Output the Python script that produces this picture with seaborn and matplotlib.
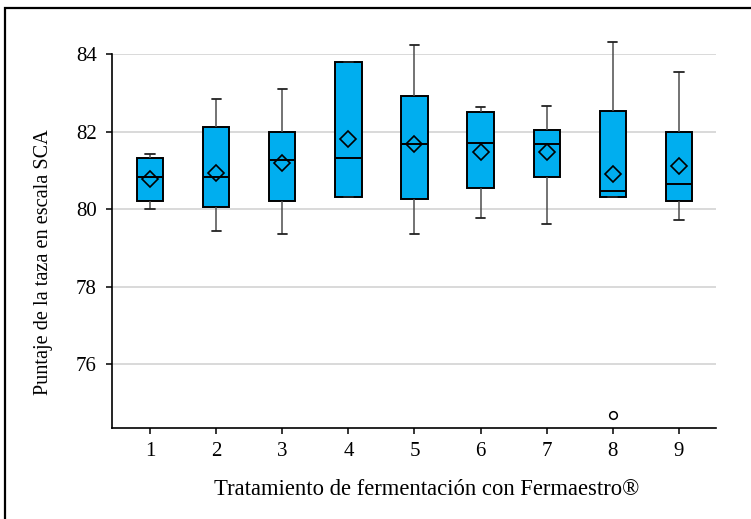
import numpy as np
import pandas as pd
import matplotlib
matplotlib.use("Agg")
import matplotlib.pyplot as plt
from matplotlib.patches import Rectangle
import seaborn as sns

# Cup score summaries (SCA scale) per fermentation treatment
tratamientos = [1, 2, 3, 4, 5, 6, 7, 8, 9]
minimos = [80.00, 79.44, 79.37, 80.32, 79.37, 79.76, 79.63, 80.32, 79.73]
cuartil_1 = [80.21, 80.06, 80.21, 80.32, 80.27, 80.54, 80.83, 80.32, 80.21]
medianas = [80.83, 80.83, 81.27, 81.32, 81.68, 81.71, 81.68, 80.48, 80.65]
cuartil_3 = [81.32, 82.13, 81.98, 83.79, 82.93, 82.51, 82.03, 82.53, 81.98]
maximos = [81.42, 82.85, 83.10, 83.79, 84.24, 82.63, 82.67, 84.31, 83.54]
medias = [80.77, 80.92, 81.20, 81.81, 81.68, 81.47, 81.47, 80.91, 81.11]
atipico_trat = [8]
atipico_valor = [74.70]
y_ticks = [76, 78, 80, 82, 84]

# Five-number summary per treatment in long form; with whiskers at the
# 0th/100th percentile the box statistics reproduce these values exactly.
filas = []
for t, a, b, c, d, e in zip(tratamientos, minimos, cuartil_1, medianas, cuartil_3, maximos):
    for v in (a, b, c, d, e):
        filas.append({"trat": t, "puntaje": v})
df = pd.DataFrame(filas)

sns.set_theme(style="white")
plt.rcParams["font.family"] = ["Liberation Serif", "DejaVu Serif"]

fig = plt.figure(figsize=(7.51, 5.19), dpi=100)
ax = fig.add_axes([112 / 751, 1 - 428 / 519, (716 - 112) / 751, (428 - 54) / 519])

azul = "#00AEEF"
sns.boxplot(
    data=df, x="trat", y="puntaje", order=tratamientos, ax=ax,
    whis=(0, 100), width=0.40, color=azul, saturation=1,
    linecolor="black", linewidth=1.4, fliersize=0,
    whiskerprops=dict(color="#4d4d4d", linewidth=1.1),
    capprops=dict(color="#222222", linewidth=1.3),
    medianprops=dict(color="black", linewidth=1.4),
    capwidths=0.14,
)

# Means as open diamonds
sns.pointplot(
    x=tratamientos, y=medias, order=tratamientos, ax=ax,
    linestyle="none", marker="D", errorbar=None, color="black",
    markersize=8.5, markerfacecolor="none", markeredgecolor="black",
    markeredgewidth=1.2, zorder=6,
)

# Outlier
sns.stripplot(
    x=atipico_trat, y=atipico_valor, order=tratamientos, ax=ax,
    jitter=False, marker="o", size=5.5, color="white",
    edgecolor="black", linewidth=1.1, zorder=6,
)

ax.set_ylim(74.36, 84)
ax.set_xlim(-0.575, 8.56)
ax.set_yticks(y_ticks)
ax.set_yticklabels([str(v) for v in y_ticks])
ax.set_xticks(range(len(tratamientos)))
ax.set_xticklabels([str(t) for t in tratamientos])

# Whiskers reaching above the top gridline stay visible
for artist in list(ax.lines) + list(ax.patches) + list(ax.collections):
    artist.set_clip_on(False)

ax.yaxis.grid(True, color="#d9d9d9", linewidth=1.4)
ax.xaxis.grid(False)
ax.set_axisbelow(True)

for s in ("top", "right"):
    ax.spines[s].set_visible(False)
for s in ("left", "bottom"):
    ax.spines[s].set_color("black")
    ax.spines[s].set_linewidth(1.2)

ax.tick_params(axis="both", which="major", direction="out", length=4, width=1.1,
               color="black", labelsize=15, labelcolor="black", left=True, bottom=True)
ax.tick_params(axis="y", pad=7)
ax.tick_params(axis="x", pad=6)

ax.set_xlabel("Tratamiento de fermentación con Fermaestro®", fontsize=16.3, color="black")
ax.set_ylabel("Puntaje de la taza en escala SCA", fontsize=14.6, color="black")
ax.xaxis.set_label_coords(0.521, -0.137)
ax.yaxis.set_label_coords(-0.097, 0.444)

# Outer frame around the figure
fig.add_artist(Rectangle((5 / 751, -0.2), 2.0, 1.2 - 8.3 / 519, fill=False,
                         linewidth=1.6, edgecolor="black", transform=fig.transFigure))

fig.savefig("out.png", dpi=100)
